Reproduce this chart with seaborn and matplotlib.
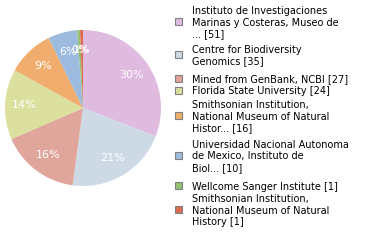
import matplotlib
matplotlib.use("Agg")
import matplotlib.pyplot as plt
import seaborn as sns
import numpy as np
from matplotlib.patches import Rectangle

sns.set_theme(style="white")
plt.rcParams['font.family'] = ['DejaVu Sans']

labels = [
    "Instituto de Investigaciones\nMarinas y Costeras, Museo de\n... [51]",
    "Centre for Biodiversity\nGenomics [35]",
    "Mined from GenBank, NCBI [27]",
    "Florida State University [24]",
    "Smithsonian Institution,\nNational Museum of Natural\nHistor... [16]",
    "Universidad Nacional Autonoma\nde Mexico, Instituto de\nBiol... [10]",
    "Wellcome Sanger Institute [1]",
    "Smithsonian Institution,\nNational Museum of Natural\nHistory [1]",
]
values = [51, 35, 27, 24, 16, 10, 1, 1]
pct_labels = ["30%", "21%", "16%", "14%", "9%", "6%", "0%", "1%"]
colors = ["#DFBBDF", "#CDDAE6", "#E0A59B", "#DCE09E", "#F0AD6E", "#9CBBDE", "#94C073", "#DD6B50"]

W, H = 380, 240
fig = plt.figure(figsize=(W / 100, H / 100), dpi=100)
cx, cy, r = 83, 108, 78
ax = fig.add_axes([(cx - r) / W, (H - cy - r) / H, 2 * r / W, 2 * r / H])
wedges, _ = ax.pie(values, colors=colors, startangle=90, counterclock=False,
                   wedgeprops=dict(linewidth=0))
ax.set_xlim(-1, 1)
ax.set_ylim(-1, 1)
ax.set_aspect("equal")
total = sum(values)
ang = 90.0
for v, t in zip(values, pct_labels):
    span = 360.0 * v / total
    mid = np.deg2rad(ang - span / 2)
    ang -= span
    ax.text(0.75 * np.cos(mid), 0.75 * np.sin(mid), t, ha="center", va="center",
            color="white", fontsize=8)

# legend
sq_y = [21, 54, 78, 90, 115, 155, 185, 209]
for c, lab, sy in zip(colors, labels, sq_y):
    fig.add_artist(Rectangle((175 / W, (H - sy - 3.5) / H), 6.5 / W, 6.5 / H,
                             transform=fig.transFigure, facecolor=c,
                             edgecolor="#808080", linewidth=0.8))
    fig.text(192 / W, (H - sy - 1.5) / H, lab, ha="left", va="center",
             fontsize=7, color="black", linespacing=1.2)

fig.savefig("out.png", dpi=100)
